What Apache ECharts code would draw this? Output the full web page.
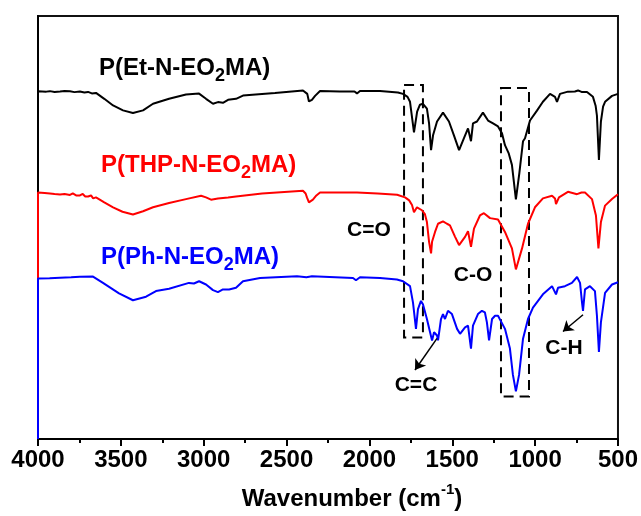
<!DOCTYPE html>
<html>
<head>
<meta charset="utf-8">
<script src="https://cdn.jsdelivr.net/npm/echarts@6/dist/echarts.min.js"></script>
<style>
html,body{margin:0;padding:0;background:#fff;}
#chart{width:641px;height:516px;}
</style>
</head>
<body>
<div id="chart"></div>
<script>
// ---- data: [wavenumber (cm-1), signal (a.u.)] ----
const seriesNames = ['P(Et-N-EO2MA)', 'P(THP-N-EO2MA)', 'P(Ph-N-EO2MA)'];

const etData = [[4000,352.7],[3950,352.3],[3928,352.8],[3900,352],[3867,352.5],[3840,353],[3807,352.6],[3780,351.8],[3747,352.5],[3720,351.5],[3698,352],[3675,350.5],[3650,351],[3600,345],[3547,338.3],[3487,333.3],[3427,330.7],[3366,333.3],[3306,340],[3209,345],[3107,349.3],[3028,350.3],[2986,345],[2944,340],[2914,341.7],[2884,341],[2853,344],[2805,345],[2763,348.3],[2648,350],[2570,351],[2401,353.5],[2375,350],[2365,342.3],[2347,344],[2328,348],[2298,353],[2178,352.5],[2090,352.5],[2075,350.5],[2057,353],[1936,353],[1828,351.5],[1797,350],[1770,347],[1755,342],[1731,311],[1712,332],[1695,339],[1677,340],[1653,335],[1640,320],[1628,293],[1616,308],[1592,322],[1556,331],[1520,322],[1490,308],[1459,293],[1430,305],[1405,315],[1387,302],[1375,320],[1351,322],[1315,331],[1284,323],[1254,320],[1224,317],[1200,310],[1182,298],[1160,290],[1140,278],[1116,243],[1095,270],[1073,302],[1061,305],[1031,323],[989,333],[953,342],[910,350],[880,347],[868,342],[850,350],[802,352.3],[760,352.5],[741,353.5],[720,352],[687,352],[651,347],[635,338],[627,328],[615,283],[603,322],[590,337],[578,342],[536,348],[500,350]];

const thpData = [[4000,250],[3960,249.5],[3928,249],[3900,248.5],[3867,248],[3840,248.5],[3807,247.5],[3790,249],[3783,250],[3770,247],[3747,247],[3730,248.5],[3715,246],[3698,246],[3680,247],[3667,244],[3650,245],[3600,240],[3547,235],[3490,230.5],[3427,227.7],[3366,231],[3306,235],[3209,239.3],[3107,243.3],[3016,246.7],[2986,245],[2956,242.7],[2914,244],[2853,245],[2805,246],[2648,249],[2401,251.7],[2385,249],[2377,245],[2365,240],[2341,242.7],[2320,247],[2298,250],[2075,250],[1950,249],[1833,247.7],[1785,245],[1760,242],[1743,237.3],[1731,230],[1713,235],[1683,232],[1665,228],[1653,220],[1640,200],[1628,188.3],[1622,200],[1604,210],[1586,218.3],[1556,220.7],[1532,218.3],[1514,216.7],[1483,205],[1459,196.7],[1423,205],[1405,210.7],[1387,195],[1369,213.3],[1333,226.7],[1309,229],[1272,224],[1224,222.7],[1182,210],[1140,193.3],[1116,172],[1079,193.3],[1043,218.3],[1001,235],[953,244],[898,246.7],[880,244],[874,238.3],[856,245],[802,250.7],[747,248.3],[720,250],[699,250],[657,243.3],[633,226.7],[618,193.3],[603,220],[578,236.7],[536,243.3],[500,248.3]];

const phData = [[4000,162.7],[3930,163],[3867,163.5],[3800,164],[3747,164.5],[3668,164.7],[3608,158.3],[3511,147.7],[3427,140.7],[3348,144.3],[3288,150],[3209,152.3],[3089,158.3],[3059,157.7],[3028,160],[2986,156.7],[2944,151],[2914,149],[2884,151.7],[2847,151.7],[2805,153.3],[2763,160],[2660,163.3],[2437,165],[2380,164],[2371,162.3],[2347,165],[2099,163.3],[2081,161],[2057,164],[1936,163.3],[1834,161.7],[1797,160],[1755,155],[1737,138.3],[1719,111.7],[1707,131.7],[1689,140],[1677,136.7],[1653,121.7],[1634,108.3],[1622,100],[1610,108.3],[1592,105],[1586,100],[1568,121.7],[1556,126.7],[1544,121.7],[1526,130],[1502,126.7],[1471,111.7],[1453,106.7],[1423,113.3],[1405,115],[1387,91.7],[1375,115],[1345,126.7],[1321,130],[1303,128.3],[1291,118.3],[1278,100],[1260,121.7],[1242,125],[1224,125],[1182,111.7],[1152,91.7],[1134,65],[1116,48.3],[1097,65],[1073,101.7],[1043,121.7],[1013,133.3],[953,146.7],[898,155],[886,155],[874,146.7],[862,153.3],[820,155],[778,158.3],[747,164.3],[729,158.3],[717,138.3],[711,130],[699,151.7],[669,155],[639,150],[627,125],[615,88.3],[603,118.3],[578,148.3],[536,156.7],[500,159]];

const X_MIN = 500, X_MAX = 4000, X_STEP = 500;
const Y_MIN = 0, Y_MAX = 429;

const FONT = '"Liberation Sans", Arial, Helvetica, sans-serif';
const colors = ['#000000', '#ff0000', '#0000ff'];

// each trace begins with a vertical drop to the bottom of the frame at 4000 cm-1
function withDrop(d) { return [[X_MAX, Y_MIN]].concat(d); }

const chart = echarts.init(document.getElementById('chart'), null, {renderer: 'canvas'});

function labelRich(color) {
  return {
    a: {fontFamily: FONT, fontSize: 24, fontWeight: 'bold', fill: color, lineHeight: 24, padding: [0, 0, 10, 0]},
    s: {fontFamily: FONT, fontSize: 18, fontWeight: 'bold', fill: color, lineHeight: 18, verticalAlign: 'bottom'}
  };
}
function seriesLabel(name, x, y, color) {
  const i = name.indexOf('2');
  return {
    type: 'text', x: x, y: y, z: 10,
    style: {
      text: '{a|' + name.slice(0, i) + '}{s|2}{a|' + name.slice(i + 1) + '}',
      rich: labelRich(color), align: 'left', verticalAlign: 'top'
    }
  };
}
function note(text, x, y) {
  return {type: 'text', x: x, y: y, z: 10,
    style: {text: text, font: 'bold 21px ' + FONT, fill: '#000', align: 'center', verticalAlign: 'middle'}};
}

const option = {
  animation: false,
  backgroundColor: '#fff',
  grid: {left: 38, right: 23, top: 16, bottom: 71, show: true, borderColor: '#111', borderWidth: 2, backgroundColor: 'transparent'},
  xAxis: {
    type: 'value', min: X_MIN, max: X_MAX, interval: X_STEP, inverse: true,
    axisLine: {show: true, onZero: false, lineStyle: {color: '#000', width: 2}},
    axisTick: {show: true, inside: false, length: 7, lineStyle: {color: '#000', width: 2}},
    minorTick: {show: true, splitNumber: 2, length: 4, lineStyle: {color: '#000', width: 2}},
    splitLine: {show: false}, minorSplitLine: {show: false},
    axisLabel: {margin: 9, fontSize: 24, fontWeight: 'bold', color: '#000', fontFamily: FONT,
      showMinLabel: true, showMaxLabel: true, formatter: v => String(v)},
    name: '{a|Wavenumber (cm}{s|-1}{a|)}',
    nameLocation: 'middle', nameGap: 43,
    nameTextStyle: {
      padding: [0, 0, 0, 48],
      rich: {
        a: {fontFamily: FONT, fontSize: 24, fontWeight: 'bold', color: '#000', padding: [5, 0, 0, 0]},
        s: {fontFamily: FONT, fontSize: 15, fontWeight: 'bold', color: '#000', verticalAlign: 'top'}
      }
    }
  },
  yAxis: {
    type: 'value', min: Y_MIN, max: Y_MAX,
    axisLine: {show: true, lineStyle: {color: '#000', width: 2}},
    axisTick: {show: false}, axisLabel: {show: false}, splitLine: {show: false}
  },
  series: [
    {
      name: seriesNames[0], type: 'line', data: withDrop(etData), showSymbol: false, silent: true,
      lineStyle: {color: colors[0], width: 2}, itemStyle: {color: colors[0]},
      markArea: {
        silent: true,
        itemStyle: {color: 'rgba(0,0,0,0)', borderColor: '#000', borderWidth: 2, borderType: [10, 6]},
        label: {show: false},
        data: [
          [{coord: [1791, 359]}, {coord: [1677, 103]}],
          [{coord: [1206, 356]}, {coord: [1037, 43]}]
        ]
      }
    },
    {
      name: seriesNames[1], type: 'line', data: withDrop(thpData), showSymbol: false, silent: true,
      lineStyle: {color: colors[1], width: 2}, itemStyle: {color: colors[1]}
    },
    {
      name: seriesNames[2], type: 'line', data: withDrop(phData), showSymbol: false, silent: true,
      lineStyle: {color: colors[2], width: 2}, itemStyle: {color: colors[2]},
      markLine: {
        silent: true, symbol: ['none', 'arrow'], symbolSize: 10,
        lineStyle: {color: '#000', width: 1.5, type: 'solid'}, label: {show: false},
        data: [
          [{coord: [1592, 102]}, {coord: [1725, 70]}],
          [{coord: [711, 126]}, {coord: [832, 109]}]
        ]
      }
    }
  ],
  graphic: [
    seriesLabel(seriesNames[0], 99, 61, colors[0]),
    seriesLabel(seriesNames[1], 101, 158, colors[1]),
    seriesLabel(seriesNames[2], 101, 250, colors[2]),
    note('C=O', 369, 230),
    note('C-O', 473, 275),
    note('C=C', 416, 385),
    note('C-H', 564, 348)
  ]
};
chart.setOption(option);
</script>
</body>
</html>
